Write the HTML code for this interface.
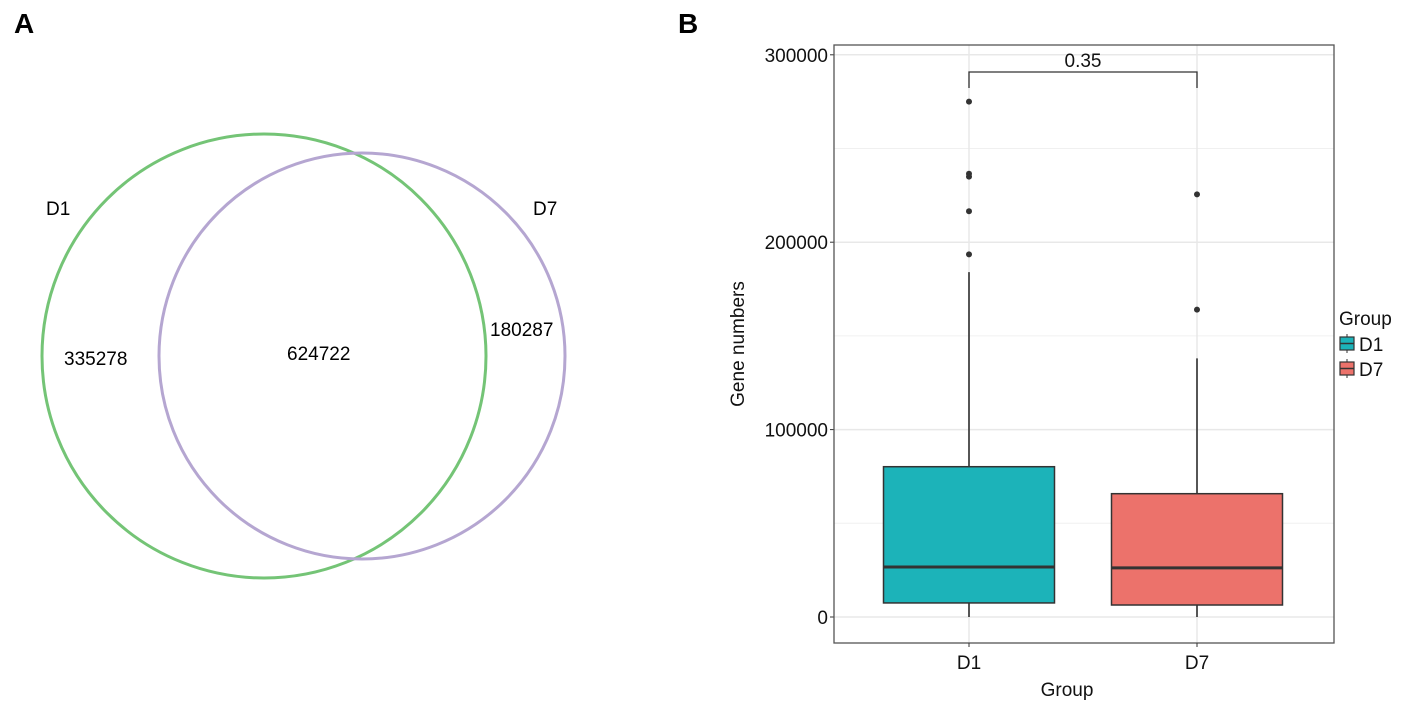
<!DOCTYPE html>
<html><head><meta charset="utf-8"><style>
body{margin:0;background:#fff;}
svg text{font-family:"Liberation Sans",Arial,sans-serif;}
</style></head><body>
<svg width="1418" height="707" viewBox="0 0 1418 707">
<text x="14" y="33" font-size="28" font-weight="bold">A</text>
<text x="678" y="33" font-size="28" font-weight="bold">B</text>
<g>
<circle cx="264" cy="356" r="222" fill="none" stroke="#74c476" stroke-width="3"/>
<circle cx="362" cy="356" r="203" fill="none" stroke="#b5a6d1" stroke-width="3"/>
<text x="46" y="215" font-size="19">D1</text>
<text x="533" y="215" font-size="19">D7</text>
<text x="64" y="365" font-size="19">335278</text>
<text x="287" y="360" font-size="19">624722</text>
<text x="490" y="336" font-size="19">180287</text>
</g>
<g id="chart"></g>
</svg>
<script>
const categories=["D1","D7"];
const q1=[7500,6400];
const medians=[26700,26200];
const q3=[80200,65800];
const whiskLow=[0,0];
const whiskHigh=[184000,138000];
const outliersD1=[193500,216500,235000,236500,275000];
const outliersD7=[164000,225500];
const yTicks=[0,100000,200000,300000];
const pLabel="0.35";
const colors=["#1cb3b9","#ec726b"];
const ns="http://www.w3.org/2000/svg";
const g=document.getElementById('chart');
const L=834,R=1334,T=45,B=643;
const y=v=>617-v*187.4/100000;
const x=i=>969+i*228;
function mk(t,a,p){const e=document.createElementNS(ns,t);for(const k in a)e.setAttribute(k,a[k]);(p||g).appendChild(e);return e;}
let e;
e=mk('rect',{x:L,y:T,width:R-L,height:B-T,fill:'#fff'});


yTicks.forEach((v,i)=>{
 if(i<yTicks.length-1){e=mk('line',{x1:L,x2:R,y1:y(v+50000),y2:y(v+50000),stroke:'#f0f0f0','stroke-width':1});
 
 }
 e=mk('line',{x1:L,x2:R,y1:y(v),y2:y(v),stroke:'#e8e8e8','stroke-width':1.5});
 
 
 e=mk('line',{x1:L-4,x2:L,y1:y(v),y2:y(v),stroke:'#333'});
 
 
 e=mk('text',{x:L-6,y:y(v)+7,'font-size':19,'text-anchor':'end',fill:'#111'});e.textContent=v;
 
 
});
categories.forEach((c,i)=>{
 e=mk('line',{x1:x(i),x2:x(i),y1:T,y2:B,stroke:'#e8e8e8','stroke-width':1.5});
 
 
});
e=mk('rect',{x:L,y:T,width:R-L,height:B-T,fill:'none',stroke:'#555','stroke-width':1.3});


const hw=85.5;
categories.forEach((c,i)=>{
 e=mk('line',{x1:x(i),x2:x(i),y1:y(whiskHigh[i]),y2:y(q3[i]),stroke:'#222','stroke-width':1.5});
 
 
 e=mk('line',{x1:x(i),x2:x(i),y1:y(q1[i]),y2:y(whiskLow[i]),stroke:'#222','stroke-width':1.5});
 
 
 e=mk('rect',{x:x(i)-hw,y:y(q3[i]),width:2*hw,height:y(q1[i])-y(q3[i]),fill:colors[i],stroke:'#333','stroke-width':1.5});
 
 
 e=mk('line',{x1:x(i)-hw,x2:x(i)+hw,y1:y(medians[i]),y2:y(medians[i]),stroke:'#333','stroke-width':3});
 
 
 e=mk('line',{x1:x(i),x2:x(i),y1:B,y2:B+4,stroke:'#333'});
 
 
 e=mk('text',{x:x(i),y:B+26,'font-size':19,'text-anchor':'middle',fill:'#111'});e.textContent=c;
 
 
});
[outliersD1,outliersD7].forEach((arr,i)=>arr.forEach(v=>{
 e=mk('circle',{cx:x(i),cy:y(v),r:3,fill:'#333'});
 
 
}));
e=mk('path',{d:`M${x(0)} 88V72H${x(1)}V88`,fill:'none',stroke:'#333','stroke-width':1.3});


e=mk('text',{x:(x(0)+x(1))/2,y:67,'font-size':19,'text-anchor':'middle',fill:'#111'});e.textContent=pLabel;


e=mk('text',{x:1067,y:696,'font-size':19,'text-anchor':'middle',fill:'#111'});e.textContent='Group';


e=mk('text',{x:0,y:0,'font-size':19,'text-anchor':'middle',fill:'#111',transform:'translate(744,344) rotate(-90)'});e.textContent='Gene numbers';


e=mk('text',{x:1339,y:325,'font-size':19,fill:'#111'});e.textContent='Group';


categories.forEach((c,i)=>{
 const yy=336+i*25;
 e=mk('line',{x1:1347,x2:1347,y1:yy-2,y2:yy+17,stroke:'#333'});
 
 
 e=mk('rect',{x:1340,y:yy+1,width:14,height:13,fill:colors[i],stroke:'#333','stroke-width':1.2});
 
 
 e=mk('line',{x1:1340,x2:1354,y1:yy+7.5,y2:yy+7.5,stroke:'#333','stroke-width':1.5});
 
 
 e=mk('text',{x:1359,y:yy+15,'font-size':19,fill:'#111'});e.textContent=c;
 
 
});
</script>
</body></html>
